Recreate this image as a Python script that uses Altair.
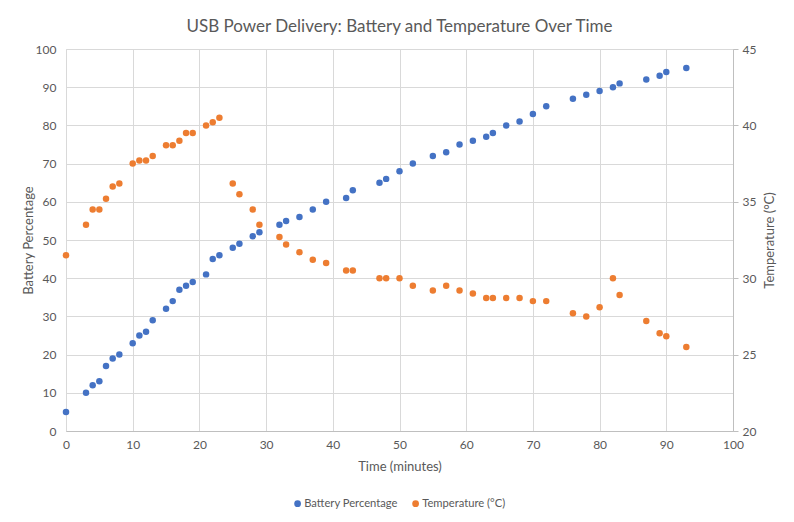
import altair as alt
import pandas as pd

time_min = [0, 3, 4, 5, 6, 7, 8, 10, 11, 12, 13, 15, 16, 17, 18, 19, 21, 22, 23, 25, 26, 28, 29,
            32, 33, 35, 37, 39, 42, 43, 47, 48, 50, 52, 55, 57, 59, 61, 63, 64, 66, 68, 70, 72,
            76, 78, 80, 82, 83, 87, 89, 90, 93]
battery = [5, 10, 12, 13, 17, 19, 20, 23, 25, 26, 29, 32, 34, 37, 38, 39, 41, 45, 46, 48, 49, 51, 52,
           54, 55, 56, 58, 60, 61, 63, 65, 66, 68, 70, 72, 73, 75, 76, 77, 78, 80, 81, 83, 85,
           87, 88, 89, 90, 91, 92, 93, 94, 95]
temperature = [31.5, 33.5, 34.5, 34.5, 35.2, 36.0, 36.2, 37.5, 37.7, 37.7, 38.0, 38.7, 38.7, 39.0, 39.5, 39.5,
               40.0, 40.2, 40.5, 36.2, 35.5, 34.5, 33.5, 32.7, 32.2, 31.7, 31.2, 31.0, 30.5, 30.5,
               30.0, 30.0, 30.0, 29.5, 29.2, 29.5, 29.2, 29.0, 28.7, 28.7, 28.7, 28.7, 28.5, 28.5,
               27.7, 27.5, 28.1, 30.0, 28.9, 27.2, 26.4, 26.2, 25.5]

series_names = ["Battery Percentage", "Temperature (°C)"]
series_colors = ["#4472C4", "#ED7D31"]
x_ticks = list(range(0, 101, 10))
y_left_ticks = list(range(0, 101, 10))
y_right_ticks = list(range(20, 46, 5))

df_b = pd.DataFrame({"time": time_min, "value": battery, "series": series_names[0]})
df_t = pd.DataFrame({"time": time_min, "value": temperature, "series": series_names[1]})

FONT = "Lato"
GRAY = "#595959"

color = alt.Color(
    "series:N",
    scale=alt.Scale(domain=series_names, range=series_colors),
    legend=alt.Legend(
        title=None, orient="none", direction="horizontal", legendX=226, legendY=449,
        symbolType="circle", symbolSize=45, symbolStrokeWidth=0, labelFontSize=11.2,
        labelFont=FONT, labelColor=GRAY, columnPadding=12, symbolOffset=0, labelOffset=1,
    ),
)

xenc = alt.X(
    "time:Q",
    title="Time (minutes)",
    scale=alt.Scale(domain=[0, 100], nice=False),
    axis=alt.Axis(values=x_ticks, grid=True, gridColor="#d9d9d9", domainColor="#bfbfbf",
                  ticks=False, labelFlush=False, labelPadding=8, titlePadding=10,
                  labelFontSize=12, titleFontSize=13,
                  labelColor=GRAY, titleColor=GRAY, labelFont=FONT, titleFont=FONT,
                  titleFontWeight="normal"),
)

battery_layer = alt.Chart(df_b).mark_circle(size=42, opacity=1).encode(
    x=xenc,
    y=alt.Y("value:Q", title="Battery Percentage", scale=alt.Scale(domain=[0, 100], nice=False),
            axis=alt.Axis(values=y_left_ticks, grid=True, gridColor="#d9d9d9", domain=False,
                          ticks=False, labelFlush=False, labelPadding=10, titlePadding=0,
                          labelFontSize=12,
                          titleFontSize=13, labelColor=GRAY, titleColor=GRAY, labelFont=FONT,
                          titleFont=FONT, titleFontWeight="normal")),
    color=color,
)

temp_layer = alt.Chart(df_t).mark_circle(size=42, opacity=1).encode(
    x=xenc,
    y=alt.Y("value:Q", title="Temperature (°C)", scale=alt.Scale(domain=[20, 45], nice=False),
            axis=alt.Axis(orient="right", values=y_right_ticks, grid=False, domain=True,
                          domainColor="#bfbfbf", ticks=True, tickColor="#bfbfbf", tickSize=5,
                          labelFlush=False, labelPadding=4, titlePadding=21, titleAngle=270,
                          labelFontSize=12,
                          titleFontSize=13, labelColor=GRAY, titleColor=GRAY, labelFont=FONT,
                          titleFont=FONT, titleFontWeight="normal")),
    color=color,
)

chart = alt.layer(battery_layer, temp_layer).resolve_scale(y="independent").properties(
    width=667,
    height=382,
    padding={"left": 58, "top": 41, "right": 53, "bottom": 83},
    autosize=alt.AutoSizeParams(type="none"),
    title=alt.TitleParams("USB Power Delivery: Battery and Temperature Over Time", font=FONT,
                          fontSize=17, fontWeight="normal", color=GRAY, anchor="middle", offset=7),
).configure_view(stroke=None).configure(background="white")

chart.save("out.html", embed_options={"renderer": "svg", "actions": False})
